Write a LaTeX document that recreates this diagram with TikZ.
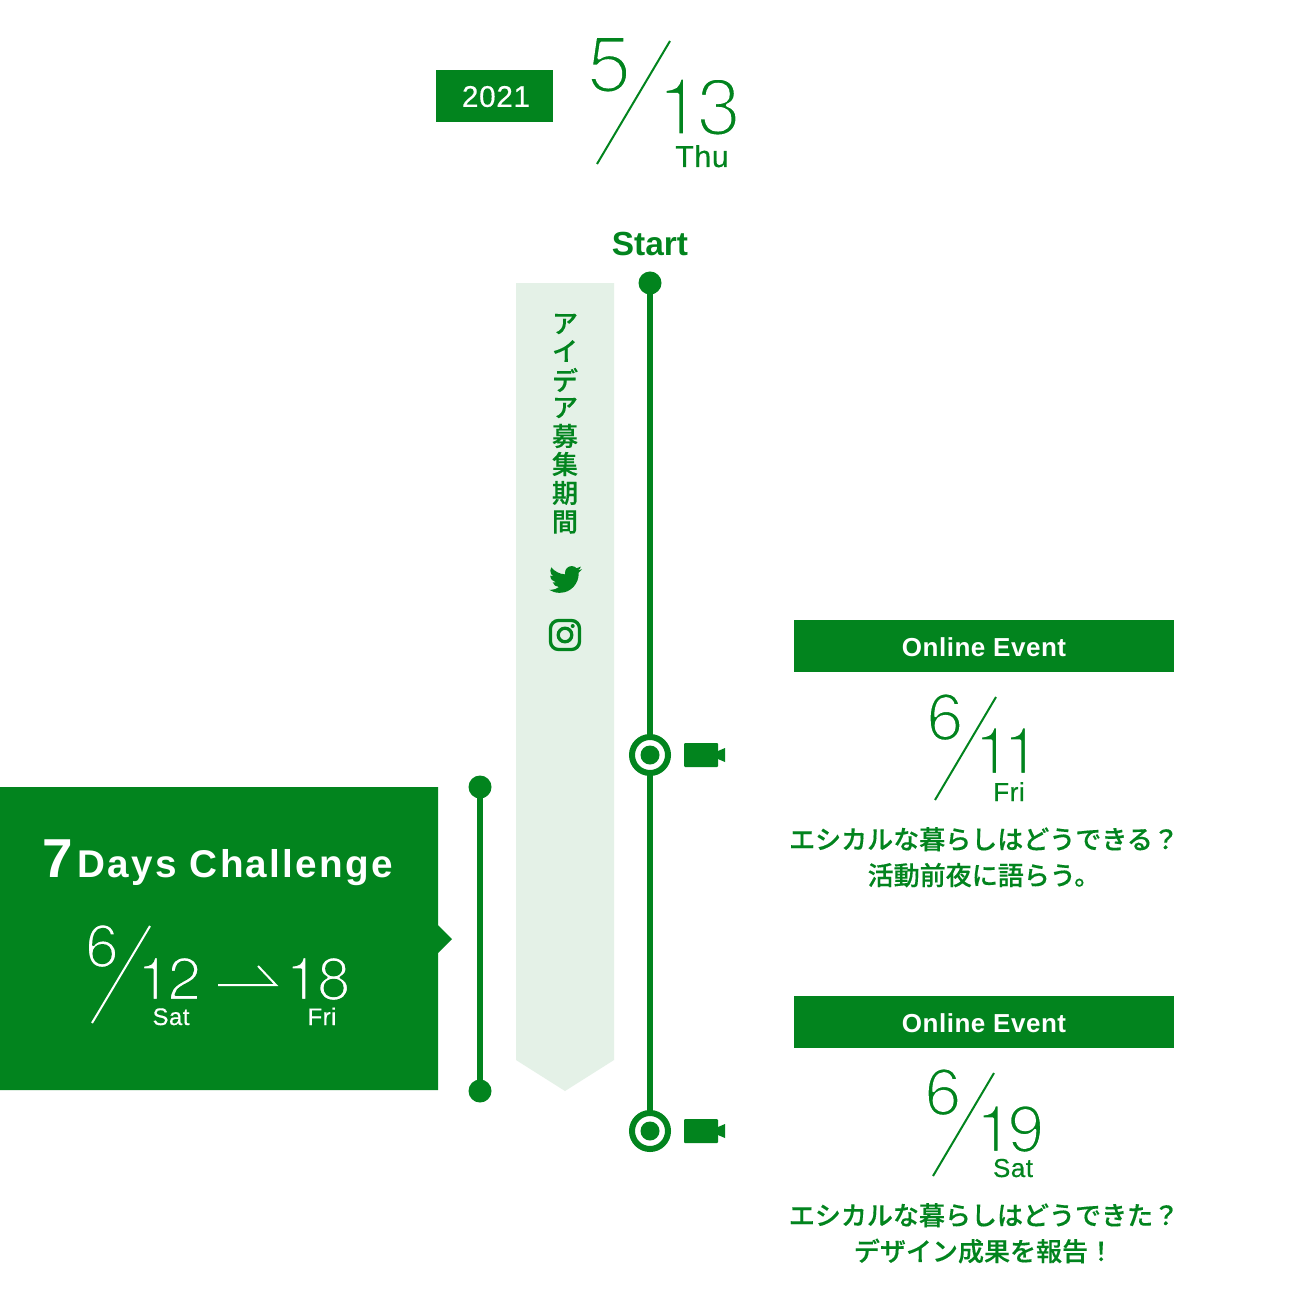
\documentclass[tikz,border=0pt]{standalone}
\usepackage{fontspec}
\setmainfont{Liberation Sans}
\newfontfamily\digitfont{TeX Gyre Heros}
\newfontfamily\spacedfont[LetterSpace=2,FakeBold=0.4]{Liberation Sans}
\newfontfamily\spacedbold[LetterSpace=2]{Liberation Sans Bold}
\newfontfamily\widebold[LetterSpace=5.8]{Liberation Sans Bold}
\newfontfamily\jpfont[FakeBold=0.3]{Noto Sans CJK JP Medium}
\usetikzlibrary{calc}

\definecolor{mainGreen}{HTML}{02841E}
\definecolor{paleGreen}{HTML}{E4F1E7}

% digits thinned by a stroke in the colour behind them
\newcommand{\thinnum}[4]{{\fontsize{#2}{#2}\selectfont\digitfont\special{pdf:code q 2 Tr 1 j #3 w #1 RG}#4\special{pdf:code Q}}}
\newcommand{\onwhite}{1 1 1}
\newcommand{\ongreen}{0.008 0.518 0.118}

\tikzset{
  txt/.style={inner sep=0pt,anchor=base,text=mainGreen},
  dot/.style={circle,fill=mainGreen,inner sep=0pt,outer sep=-0.01cm,minimum size=0.23cm},
  ring/.style={circle,draw=mainGreen,line width=0.06cm,fill=white,inner sep=0pt,outer sep=0.02cm,minimum size=0.36cm},
  bar/.style={draw=mainGreen,line width=0.06cm},
  slash/.style={draw=mainGreen,line width=0.02cm},
  band/.style={fill=mainGreen,text=white,inner sep=0pt,minimum width=3.8cm,minimum height=0.52cm,text height=0.22cm},
}

\begin{document}
\begin{tikzpicture}[x=0.01cm,y=-0.01cm]
  \path[use as bounding box,fill=white] (0,0) rectangle (1300,1300);

  % header
  \node[fill=mainGreen,text=white,inner sep=0pt,minimum width=1.17cm,minimum height=0.52cm,text height=0.22cm,font=\fontsize{8.5}{9}\spacedfont] (year) at (494.5,96) {\hspace*{0.03cm}2021};
  \node[txt] (monthA) at (609,92) {\thinnum{\onwhite}{22.8}{0.9}{5}};
  \node[txt] (dayA) at (699,135) {\thinnum{\onwhite}{22.8}{0.9}{1\kern-0.05cm 3}};
  \node[txt,font=\fontsize{8.6}{9}\spacedfont] (wdayA) at (702,167) {Thu};
  \coordinate (slashAa) at (670,41);
  \coordinate (slashAb) at (597,164);
  \draw[slash] (slashAa) -- (slashAb);

  % idea period
  \fill[paleGreen] (516,283) -- (614,283) -- (614,1060) -- (565,1091) -- (516,1060) -- cycle;
  \foreach \c/\y in {ア/324,イ/351,デ/380,ア/408,募/436,集/464,期/493,間/522} {
    \node[text=mainGreen,inner sep=0pt,font=\fontsize{7.4}{8}\jpfont] at (565,\y) {\c};
  }

  % twitter
  \begin{scope}[shift={(549,563)},x=0.0137cm,y=-0.0137cm]
    \fill[mainGreen] (23.954,4.569) .. controls (23.069,4.958) and (22.124,5.223) .. (21.129,5.344)
      .. controls (22.143,4.733) and (22.923,3.77) .. (23.292,2.621)
      .. controls (22.341,3.176) and (21.287,3.58) .. (20.165,3.805)
      .. controls (19.269,2.846) and (17.992,2.246) .. (16.574,2.246)
      .. controls (13.857,2.246) and (11.654,4.449) .. (11.654,7.163)
      .. controls (11.654,7.553) and (11.699,7.928) .. (11.781,8.287)
      .. controls (7.691,8.094) and (4.066,6.13) .. (1.64,3.161)
      .. controls (1.213,3.883) and (.974,4.722) .. (.974,5.636)
      .. controls (.974,7.346) and (1.844,8.849) .. (3.162,9.732)
      .. controls (2.355,9.706) and (1.596,9.484) .. (.934,9.116)
      -- (.934,9.177)
      .. controls (.934,11.562) and (2.627,13.551) .. (4.88,14.004)
      .. controls (4.467,14.115) and (4.031,14.175) .. (3.584,14.175)
      .. controls (3.27,14.175) and (2.969,14.145) .. (2.668,14.089)
      .. controls (3.299,16.042) and (5.113,17.466) .. (7.272,17.506)
      .. controls (5.592,18.825) and (3.463,19.611) .. (1.279,19.611)
      .. controls (.889,19.611) and (.5,19.588) .. (.109,19.544)
      .. controls (2.298,20.938) and (4.877,21.753) .. (7.666,21.753)
      .. controls (16.72,21.753) and (21.665,14.257) .. (21.665,7.767)
      .. controls (21.665,7.558) and (21.665,7.347) .. (21.65,7.137)
      .. controls (22.611,6.448) and (23.45,5.577) .. (24.11,4.589)
      -- cycle;
  \end{scope}

  % instagram
  \draw[mainGreen,line width=0.033cm,rounded corners=0.08cm] (550.5,620.5) rectangle (579.5,649.5);
  \draw[mainGreen,line width=0.033cm] (565,635) circle [radius=0.068cm];
  \fill[mainGreen] (572.7,626) circle [radius=0.02cm];

  % main line
  \node[txt,font=\fontsize{9.5}{10}\bfseries] (start) at (650,255) {Start};
  \node[dot] (startdot) at (650,283) {};
  \node[ring] (ringA) at (650,755) {};
  \node[dot,minimum size=0.19cm] at (650,755) {};
  \node[ring] (ringB) at (650,1131) {};
  \node[dot,minimum size=0.19cm] at (650,1131) {};
  \draw[bar] (startdot) -- (ringA);
  \draw[bar] (ringA) -- (ringB);

  % camera marks
  \foreach \y in {755,1131} {
    \fill[mainGreen,rounded corners=0.01cm] (684,\y-12) rectangle (718,\y+12);
    \fill[mainGreen] (718,\y-4) -- (725,\y-7) -- (725,\y+7) -- (718,\y+4) -- cycle;
  }

  % online events
  \foreach \i/\y in {A/646,B/1022} {
    \node[band,font=\fontsize{7.4}{8}\spacedbold] (event\i) at (984,\y) {Online Event};
  }

  \node[txt] (monthB) at (945,740) {\thinnum{\onwhite}{18.8}{0.65}{6}};
  \node[txt] (dayB) at (1007,774) {\thinnum{\onwhite}{18.8}{0.65}{1\kern-0.08cm 1}};
  \node[txt,font=\fontsize{7.4}{8}\spacedfont] (wdayB) at (1009,801) {Fri};
  \coordinate (slashBa) at (996,697);
  \coordinate (slashBb) at (935,800);
  \draw[slash] (slashBa) -- (slashBb);
  \node[txt,font=\fontsize{7.4}{8}\jpfont] (textBa) at (984,849) {エシカルな暮らしはどうできる？};
  \node[txt,font=\fontsize{7.4}{8}\jpfont] (textBb) at (984,885) {活動前夜に語らう。};

  \node[txt] (monthC) at (943,1115) {\thinnum{\onwhite}{18.8}{0.65}{6}};
  \node[txt] (dayC) at (1010,1152) {\thinnum{\onwhite}{18.8}{0.65}{1\kern-0.05cm 9}};
  \node[txt,font=\fontsize{7.4}{8}\spacedfont] (wdayC) at (1013,1177) {Sat};
  \coordinate (slashCa) at (994,1073);
  \coordinate (slashCb) at (933,1176);
  \draw[slash] (slashCa) -- (slashCb);
  \node[txt,font=\fontsize{7.4}{8}\jpfont] (textCa) at (984,1225) {エシカルな暮らしはどうできた？};
  \node[txt,font=\fontsize{7.4}{8}\jpfont] (textCb) at (984,1261) {デザイン成果を報告！};

  % challenge block
  \fill[mainGreen] (0,787) -- (438,787) -- (438,925) -- (452,939) -- (438,953) -- (438,1090) -- (0,1090) -- cycle;
  \node[dot] (barTop) at (480,787) {};
  \node[dot] (barEnd) at (480,1091) {};
  \draw[bar] (barTop) -- (barEnd);

  \node[txt,text=white,font=\fontsize{15.6}{16}\bfseries] (seven) at (58,877) {7};
  \node[txt,text=white,anchor=base west,font=\fontsize{11}{12}\widebold] (days) at (77,877) {Days Challenge};
  \node[txt,text=white] (monthD) at (102,967) {\thinnum{\ongreen}{17.2}{0.6}{6}};
  \node[txt,text=white] (dayD) at (169,1000) {\thinnum{\ongreen}{17.2}{0.6}{1\kern-0.03cm 2}};
  \node[txt,text=white] (dayE) at (318,1000) {\thinnum{\ongreen}{17.2}{0.6}{1\kern-0.02cm 8}};
  \node[txt,text=white,font=\fontsize{6.8}{7}\spacedfont] (wdayD) at (171,1025) {Sat};
  \node[txt,text=white,font=\fontsize{6.8}{7}\spacedfont] (wdayE) at (322,1025) {Fri};
  \coordinate (slashDa) at (150,926);
  \coordinate (slashDb) at (92,1023);
  \draw[slash,draw=white] (slashDa) -- (slashDb);
  \coordinate (arrA) at (218,985);
  \coordinate (arrB) at (276,985);
  \coordinate (arrC) at (258,966);
  \draw[slash,draw=white] (arrA) -- (arrB) -- (arrC);

\end{tikzpicture}
\end{document}
